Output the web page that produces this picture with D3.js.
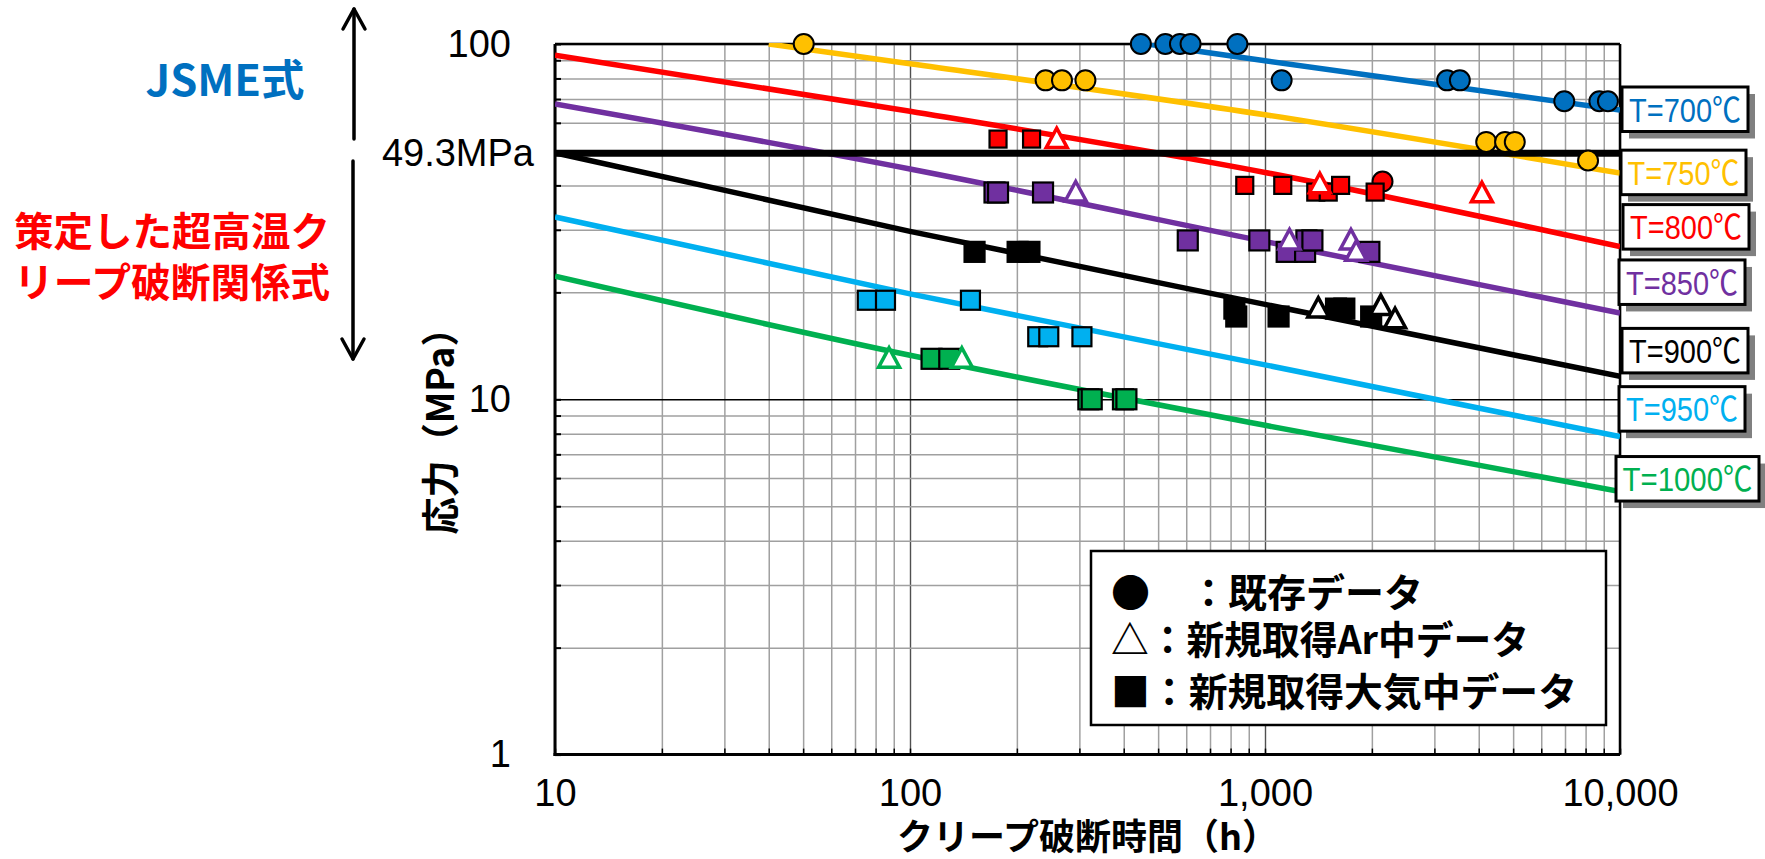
<!DOCTYPE html>
<html><head><meta charset="utf-8">
<script src="https://cdn.jsdelivr.net/npm/d3@7"></script>
<style>
html,body{margin:0;padding:0;background:#fff;}
svg{display:block;}
</style></head>
<body>
<svg id="chart" width="1765" height="859"></svg>
<script>
// ---------------- DATA ----------------
const xTickValues = [10, 100, 1000, 10000];
const xTickLabels = ["10", "100", "1,000", "10,000"];
const yTickValues = [1, 10, 100];
const yTickLabels = ["1", "10", "100"];
const refStress = 49.3;
const refStressLabel = "49.3MPa";

const temps = ["700", "750", "800", "850", "900", "950", "1000"];
const curveLabels = ["T=700℃", "T=750℃", "T=800℃", "T=850℃", "T=900℃", "T=950℃", "T=1000℃"];

// creep rupture curves [time h, stress MPa]
const curve700 = [[467, 100], [1000, 89.7], [3000, 77], [10000, 65.2]];
const curve750 = [[40, 100], [100, 88], [1000, 63.2], [10000, 43.3]];
const curve800 = [[10, 93], [100, 64.7], [1000, 43.5], [10000, 26.9]];
const curve850 = [[10, 67.8], [100, 44.5], [1000, 27.8], [10000, 17.5]];
const curve900 = [[10, 49.4], [100, 29.7], [1000, 18.5], [10000, 11.6]];
const curve950 = [[10, 32.6], [100, 19.8], [1000, 12.5], [10000, 7.85]];
const curve1000 = [[10, 22.2], [100, 13.3], [1000, 8.45], [10000, 5.5]];

// existing data (circles)
const existing700 = [[447, 100], [524, 100], [576, 100], [617, 100], [836, 100], [1114, 79], [3258, 79], [3539, 79], [6966, 69], [8747, 69], [9247, 69]];
const existing750 = [[50.2, 100], [241, 79], [268, 79], [312, 79], [4199, 53], [4745, 53], [5054, 53], [8128, 47]];
const existing800 = [[2143, 41]];

// new data in Ar (triangles)
const ar800 = [[259, 54], [1427, 40.3], [4083, 38]];
const ar850 = [[293, 38.2], [1172, 28], [1746, 28], [1807, 26]];
const ar900 = [[1413, 18], [2120, 18.3], [2325, 16.8]];
const ar1000 = [[87.3, 13], [140, 13]];

// new data in air (squares)
const air800 = [[177, 54], [220, 54], [877, 40], [1122, 40], [1390, 38.3], [1507, 38.3], [1633, 40], [2043, 38.3]];
const air850 = [[173, 38.2], [177, 38.2], [237, 38.2], [606, 28], [964, 28], [1151, 26], [1297, 26], [1308, 28], [1360, 28], [1968, 26]];
const air900 = [[152, 26], [201, 26], [217, 26], [820, 18], [830, 17.1], [1092, 17.1], [1585, 18], [1673, 18], [1991, 17.1]];
const air950 = [[75.8, 19], [85.3, 19], [148, 19], [229, 15], [246, 15], [305, 15]];
const air1000 = [[115, 13], [129, 13], [318, 10], [325, 10], [398, 10], [407, 10]];

const legendLines = ["●　：既存データ", "△：新規取得Ar中データ", "■：新規取得大気中データ"];
const xTitle = "クリープ破断時間（h）";
const yTitle = "応力（MPa）";
const noteJSME = "JSME式";
const noteNew = ["策定した超高温ク", "リープ破断関係式"];

// ---------------- STYLE / LAYOUT ----------------
const colors = ["#0070C0", "#FFC000", "#FF0000", "#7030A0", "#000000", "#00B0F0", "#00B050"];
const curves = [curve700, curve750, curve800, curve850, curve900, curve950, curve1000];
const existingSets = [[existing700, 0], [existing750, 1], [existing800, 2]];
const arSets = [[ar800, 2], [ar850, 3], [ar900, 4], [ar1000, 6]];
const airSets = [[air800, 2, 17], [air850, 3, 20], [air900, 4, 20], [air950, 5, 19], [air1000, 6, 20]];
// label boxes: left x, width, offset of top from curve end
const boxLayout = [[1622, 126, -23], [1621, 125, -23], [1623, 126, -42], [1619, 126, -53], [1622, 126, -48], [1619, 126, -50], [1616, 143, -35]];

const L = 555, R = 1620, T = 44, B = 754.6;
const latin = "'Liberation Sans', Arial, 'Noto Sans CJK JP', sans-serif";
const cjk = "'Noto Sans CJK JP', 'Noto Sans CJK SC', sans-serif";

const svg = d3.select("#chart");
const x = d3.scaleLog().domain([10, 10000]).range([L, R]);
const y = d3.scaleLog().domain([1, 100]).range([B, T]);

// grid values
const xGrid = [];
[10, 100, 1000].forEach(d => { for (let k = 1; k <= 9; k++) xGrid.push(d * k); });
xGrid.push(10000);
const yGrid = [];
[1, 10].forEach(d => { for (let k = 1; k <= 9; k++) yGrid.push(d * k); });
yGrid.push(100);

// vertical grid via axis
const gx = svg.append("g").attr("transform", `translate(0,${B})`)
  .call(d3.axisBottom(x).tickValues(xGrid).tickSize(-(B - T)).tickFormat(""));
gx.select(".domain").remove();
gx.selectAll(".tick line")
  .attr("stroke", d => (d === 100 || d === 1000) ? "#505050" : "#a0a0a0")
  .attr("stroke-width", d => (d === 100 || d === 1000) ? 1.4 : 1.5);

const gy = svg.append("g").attr("transform", `translate(${L},0)`)
  .call(d3.axisLeft(y).tickValues(yGrid).tickSize(-(R - L)).tickFormat(""));
gy.select(".domain").remove();
gy.selectAll(".tick line")
  .attr("stroke", d => d === 10 ? "#000" : "#a0a0a0")
  .attr("stroke-width", d => d === 10 ? 1.4 : 1.5);

// small inner ticks
const tb = svg.append("g").attr("transform", `translate(0,${B})`)
  .call(d3.axisBottom(x).tickValues(xGrid).tickSize(-6).tickFormat(""));
tb.select(".domain").remove();
tb.selectAll(".tick line").attr("stroke", "#000").attr("stroke-width", 1.5);
const tl = svg.append("g").attr("transform", `translate(${L},0)`)
  .call(d3.axisLeft(y).tickValues(yGrid).tickSize(-6).tickFormat(""));
tl.select(".domain").remove();
tl.selectAll(".tick line").attr("stroke", "#000").attr("stroke-width", 2);

// tick labels
const ax = svg.append("g").attr("transform", `translate(0,${B})`)
  .call(d3.axisBottom(x).tickValues(xTickValues).tickSize(0).tickPadding(24)
    .tickFormat((d, i) => xTickLabels[i]));
ax.select(".domain").remove();
ax.selectAll("text").attr("font-family", latin).attr("font-size", 38).attr("fill", "#000");

const ay = svg.append("g").attr("transform", `translate(${L},0)`)
  .call(d3.axisLeft(y).tickValues(yTickValues).tickSize(0).tickPadding(44)
    .tickFormat((d, i) => yTickLabels[i]));
ay.select(".domain").remove();
ay.selectAll("text").attr("font-family", latin).attr("font-size", 38).attr("fill", "#000");

// border
svg.append("line").attr("x1", L).attr("x2", R).attr("y1", T).attr("y2", T).attr("stroke", "#000").attr("stroke-width", 2.5);
svg.append("line").attr("x1", R).attr("x2", R).attr("y1", T).attr("y2", B).attr("stroke", "#000").attr("stroke-width", 2.5);
svg.append("line").attr("x1", L).attr("x2", L).attr("y1", T).attr("y2", B + 1.5).attr("stroke", "#000").attr("stroke-width", 3);
svg.append("line").attr("x1", L - 1.5).attr("x2", R).attr("y1", B).attr("y2", B).attr("stroke", "#000").attr("stroke-width", 3);

// clip
svg.append("defs").append("clipPath").attr("id", "plotclip")
  .append("rect").attr("x", L).attr("y", T - 1).attr("width", R - L).attr("height", B - T + 1);

// curves
const lineGen = d3.line().x(d => x(d[0])).y(d => y(d[1])).curve(d3.curveMonotoneX);
const gc = svg.append("g").attr("clip-path", "url(#plotclip)");
curves.forEach((c, i) => {
  gc.append("path").attr("d", lineGen(c)).attr("fill", "none")
    .attr("stroke", colors[i]).attr("stroke-width", 5.5);
});

// 49.3 MPa reference line
svg.append("line").attr("x1", L).attr("x2", R).attr("y1", y(refStress)).attr("y2", y(refStress))
  .attr("stroke", "#000").attr("stroke-width", 7);
svg.append("text").attr("x", 534).attr("y", y(refStress)).attr("dy", "0.35em")
  .attr("text-anchor", "end").attr("font-family", latin).attr("font-size", 38).text(refStressLabel);

// markers
const gm = svg.append("g");
existingSets.forEach(([arr, ci]) => {
  gm.selectAll(null).data(arr).enter().append("circle")
    .attr("cx", d => x(d[0])).attr("cy", d => y(d[1])).attr("r", 10)
    .attr("fill", colors[ci]).attr("stroke", "#000").attr("stroke-width", 2);
});
airSets.forEach(([arr, ci, sz]) => {
  gm.selectAll(null).data(arr).enter().append("rect")
    .attr("x", d => x(d[0]) - sz / 2).attr("y", d => y(d[1]) - sz / 2)
    .attr("width", sz).attr("height", sz)
    .attr("fill", colors[ci]).attr("stroke", "#000").attr("stroke-width", 2.2);
});
const tri = (cx, cy) => `M${cx},${cy - 11}L${cx + 10.5},${cy + 8.5}L${cx - 10.5},${cy + 8.5}Z`;
arSets.forEach(([arr, ci]) => {
  gm.selectAll(null).data(arr).enter().append("path")
    .attr("d", d => tri(x(d[0]), y(d[1])))
    .attr("fill", "#fff").attr("stroke", colors[ci]).attr("stroke-width", 3.5)
    .attr("stroke-linejoin", "miter");
});

// legend
const lg = svg.append("g");
lg.append("rect").attr("x", 1091).attr("y", 551).attr("width", 515).attr("height", 174)
  .attr("fill", "#fff").attr("stroke", "#000").attr("stroke-width", 2.5);
const legY = [593, 640, 692];
const legW = [null, 418, 466];
legendLines.forEach((t, i) => {
  const tx = lg.append("text").attr("x", 1111).attr("y", legY[i]).attr("dy", "0.36em")
    .attr("font-family", cjk).attr("font-weight", "bold").attr("font-size", 39).attr("fill", "#000").text(t);
  if (legW[i]) tx.attr("textLength", legW[i]).attr("lengthAdjust", "spacingAndGlyphs");
});

// label boxes at curve ends
curves.forEach((c, i) => {
  const end = c[c.length - 1];
  const [bx, bw, dy] = boxLayout[i];
  const by = y(end[1]) + dy;
  const bh = 44.5;
  svg.append("rect").attr("x", bx + 7).attr("y", by + 7).attr("width", bw).attr("height", bh).attr("fill", "#808080");
  svg.append("rect").attr("x", bx).attr("y", by).attr("width", bw).attr("height", bh)
    .attr("fill", "#fff").attr("stroke", "#000").attr("stroke-width", 3);
  svg.append("text").attr("x", bx + bw / 2).attr("y", by + bh / 2).attr("dy", "0.37em")
    .attr("text-anchor", "middle").attr("font-family", latin).attr("font-size", 34)
    .attr("fill", colors[i]).attr("textLength", i === 6 ? 130 : 112).attr("lengthAdjust", "spacingAndGlyphs")
    .text(curveLabels[i]);
});

// axis titles
svg.append("text").attr("x", (L + R) / 2).attr("y", 837).attr("dy", "0.36em").attr("text-anchor", "middle")
  .attr("font-family", cjk).attr("font-weight", "bold").attr("font-size", 36).text(xTitle);
svg.append("text").attr("transform", "translate(440,422) rotate(-90)").attr("dy", "0.36em")
  .attr("text-anchor", "middle").attr("font-family", cjk).attr("font-weight", "bold").attr("font-size", 38)
  .attr("textLength", 225).attr("lengthAdjust", "spacingAndGlyphs").text(yTitle);

// left annotations
svg.append("text").attr("x", 225).attr("y", 81).attr("dy", "0.36em").attr("text-anchor", "middle")
  .attr("font-family", cjk).attr("font-weight", "bold").attr("font-size", 43).attr("fill", "#0070C0")
  .attr("textLength", 159).attr("lengthAdjust", "spacingAndGlyphs").text(noteJSME);
[232, 283].forEach((yy, i) => {
  svg.append("text").attr("x", 14).attr("y", yy).attr("dy", "0.36em")
    .attr("font-family", cjk).attr("font-weight", "bold").attr("font-size", 40).attr("fill", "#FF0000")
    .attr("textLength", 316).attr("lengthAdjust", "spacingAndGlyphs").text(noteNew[i]);
});

// arrows
const ga = svg.append("g").attr("stroke", "#000").attr("stroke-width", 3.5).attr("fill", "none")
  .attr("stroke-linecap", "round").attr("stroke-linejoin", "round");
ga.append("line").attr("x1", 354).attr("x2", 354).attr("y1", 139).attr("y2", 9);
ga.append("path").attr("d", "M343,29L354,9L365,29");
ga.append("line").attr("x1", 353).attr("x2", 353).attr("y1", 161).attr("y2", 359);
ga.append("path").attr("d", "M342,339L353,359L364,339");
</script>
</body></html>
